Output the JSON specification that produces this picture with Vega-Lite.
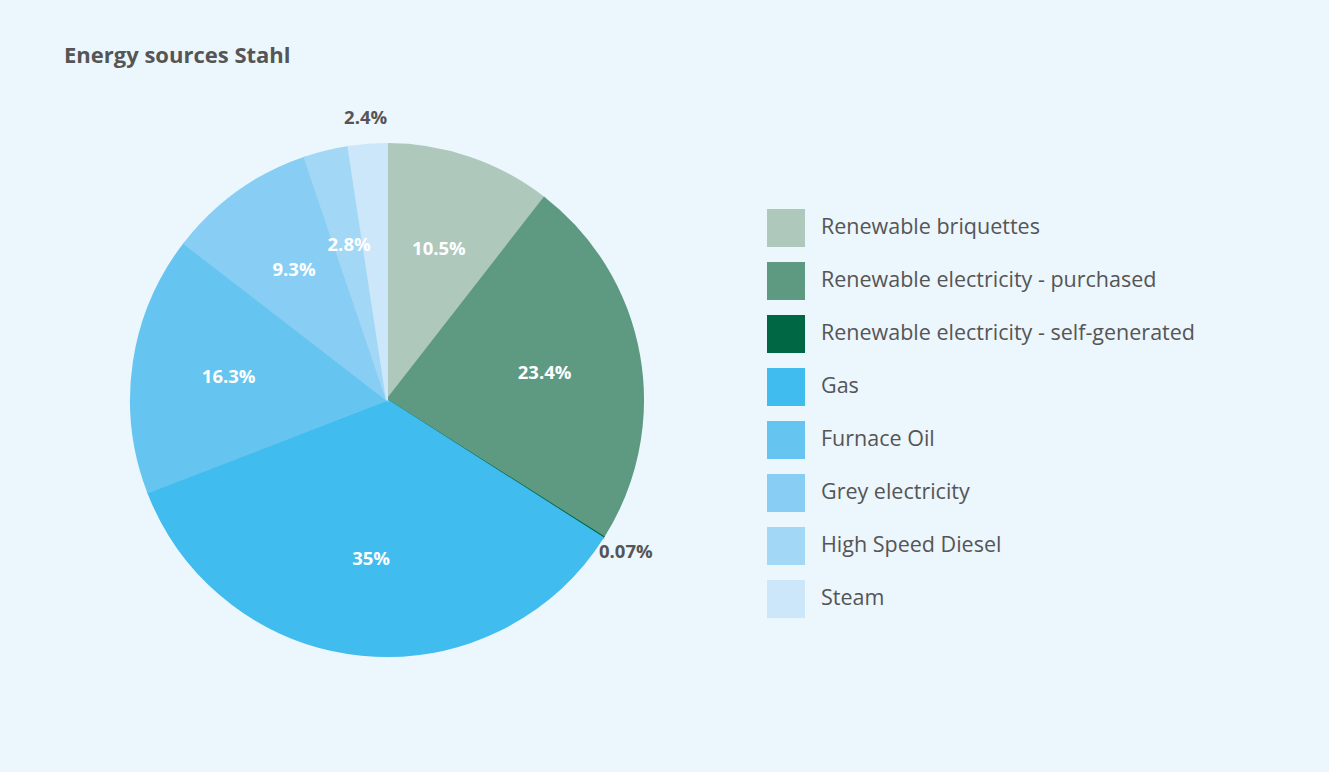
{
  "$schema": "https://vega.github.io/schema/vega-lite/v6.json",
  "width": 540,
  "height": 540,
  "autosize": {"type": "none"},
  "padding": {"left": 117, "top": 130, "right": 672, "bottom": 102},
  "background": "#ecf6fd",
  "config": {"view": {"stroke": null}, "font": "Open Sans"},
  "title": {
    "text": "Energy sources Stahl",
    "anchor": "start",
    "frame": "group",
    "dx": -53,
    "offset": 24,
    "baseline": "alphabetic",
    "fontSize": 22,
    "fontWeight": "bold",
    "color": "#555555",
    "font": "Open Sans"
  },
  "data": {
    "values": [
      {"idx": 1, "source": "Renewable briquettes", "value": 10.5, "label": "10.5%", "pos": "in"},
      {"idx": 2, "source": "Renewable electricity - purchased", "value": 23.4, "label": "23.4%", "pos": "in"},
      {"idx": 3, "source": "Renewable electricity - self-generated", "value": 0.07, "label": "0.07%", "pos": "out"},
      {"idx": 4, "source": "Gas", "value": 35, "label": "35%", "pos": "in"},
      {"idx": 5, "source": "Furnace Oil", "value": 16.3, "label": "16.3%", "pos": "in"},
      {"idx": 6, "source": "Grey electricity", "value": 9.3, "label": "9.3%", "pos": "in"},
      {"idx": 7, "source": "High Speed Diesel", "value": 2.8, "label": "2.8%", "pos": "in"},
      {"idx": 8, "source": "Steam", "value": 2.4, "label": "2.4%", "pos": "out"}
    ]
  },
  "encoding": {
    "theta": {"field": "value", "type": "quantitative", "stack": true},
    "order": {"field": "idx", "type": "quantitative"}
  },
  "layer": [
    {
      "mark": {"type": "arc", "outerRadius": 256, "strokeWidth": 2},
      "encoding": {
        "color": {
          "field": "source",
          "type": "nominal",
          "scale": {
            "domain": ["Renewable briquettes", "Renewable electricity - purchased", "Renewable electricity - self-generated", "Gas", "Furnace Oil", "Grey electricity", "High Speed Diesel", "Steam"],
            "range": ["#aec8bc", "#5e9982", "#006744", "#40bcee", "#66c5f0", "#88cef4", "#a2d7f5", "#cce7f9"]
          },
          "legend": {
            "orient": "none",
            "legendX": 650,
            "legendY": 79,
            "title": null,
            "padding": 0,
            "symbolType": "square",
            "symbolSize": 1444,
            "symbolStrokeWidth": 0,
            "symbolOpacity": 1,
            "labelFontSize": 21.5,
            "labelColor": "#555555",
            "labelFont": "Open Sans",
            "labelOffset": 16,
            "labelLimit": 600,
            "rowPadding": 15
          }
        },
        "stroke": {
          "field": "source",
          "type": "nominal",
          "scale": {
            "domain": ["Renewable briquettes", "Renewable electricity - purchased", "Renewable electricity - self-generated", "Gas", "Furnace Oil", "Grey electricity", "High Speed Diesel", "Steam"],
            "range": ["#aec8bc", "#5e9982", "#006744", "#40bcee", "#66c5f0", "#88cef4", "#a2d7f5", "#cce7f9"]
          },
          "legend": null
        }
      }
    },
    {
      "mark": {"type": "text", "radius": 160, "fontSize": 18.5, "fontWeight": "bold", "fill": "#ffffff", "font": "Open Sans"},
      "encoding": {
        "text": {"condition": {"test": "datum.pos === 'in'", "field": "label"}, "value": ""}
      }
    },
    {
      "mark": {"type": "text", "radius": 283, "fontSize": 18.5, "fontWeight": "bold", "fill": "#555555", "font": "Open Sans"},
      "encoding": {
        "text": {"condition": {"test": "datum.pos === 'out'", "field": "label"}, "value": ""}
      }
    }
  ]
}
